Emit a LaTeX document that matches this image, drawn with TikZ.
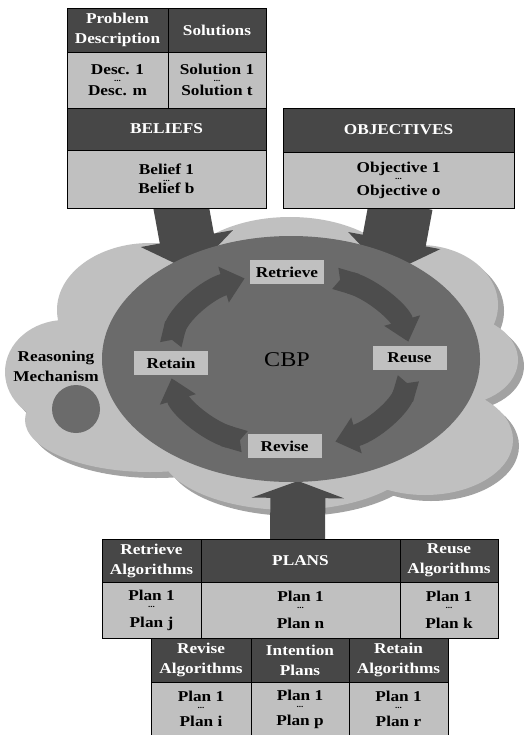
\documentclass[tikz,border=0pt]{standalone}
\usepackage{fontspec}
\setmainfont[FakeStretch=1.15]{Liberation Serif}
\usetikzlibrary{arrows.meta}
\pgfdeclarelayer{back}
\pgfsetlayers{back,main}
\definecolor{cloudc}{HTML}{C0C0C0}
\definecolor{shadc}{HTML}{A2A2A2}
\definecolor{ellc}{HTML}{6B6B6B}
\definecolor{cycc}{HTML}{4D4D4D}
\definecolor{hdrc}{HTML}{474747}
\definecolor{cellc}{HTML}{C0C0C0}
\definecolor{arrc}{HTML}{4A4A4A}
\newcommand{\bft}{\fontsize{15}{20}\selectfont\bfseries}
\newcommand{\trio}[3]{\vbox{\baselineskip=#3\lineskiplimit=-100pt\lineskip=0pt\halign{\hfil##\hfil\cr #1\cr{\fontsize{8}{8}\selectfont\raisebox{\dimexpr#3-7pt\relax}[0pt][0pt]{...}}\cr #2\cr}}}
\begin{document}
\begin{tikzpicture}[x=1pt,y=1pt,
  hdrcell/.style={draw=black, line width=0.8pt, fill=hdrc, text=white, font=\bft, align=center, inner sep=0pt, outer sep=0pt, anchor=north west},
  bodycell/.style={draw=black, line width=0.8pt, fill=cellc, text=black, font=\bft, inner sep=0pt, outer sep=0pt, anchor=north west},
  lbl/.style={fill=cellc, text=black, font=\bft, inner sep=0pt, minimum width=74pt, minimum height=24pt},
  bigarr/.style={draw=arrc, line width=#1, -{Triangle[width=92pt,length=34pt]}},
  botarr/.style={draw=arrc, line width=55pt, -{Triangle[width=92pt,length=17pt]}},
  cycarr/.style={draw=cycc, line width=22pt, {Triangle Cap[reversed,length=5pt]}-{Triangle[width=36pt,length=22pt]}}
]
\useasboundingbox (0,0) rectangle (524,-735);

% ---------- top-left table ----------
\node[hdrcell, minimum width=101pt, minimum height=44pt] (pd) at (67,-8) {Problem\\Description};
\node[hdrcell, minimum width=98pt, minimum height=44pt] (sol) at (168,-8) {Solutions};
\node[bodycell, minimum width=101pt, minimum height=56pt] (desc) at (67,-52) {\trio{Desc. 1}{Desc. m}{10.5pt}};
\node[bodycell, minimum width=98pt, minimum height=56pt] (solc) at (168,-52) {\trio{Solution 1}{Solution t}{10.5pt}};
\node[hdrcell, minimum width=199pt, minimum height=42pt] (bel) at (67,-108) {BELIEFS};
\node[bodycell, minimum width=199pt, minimum height=58pt] (belc) at (67,-150) {\trio{Belief 1}{Belief b}{9.5pt}};

% ---------- objectives ----------
\node[hdrcell, minimum width=231pt, minimum height=44pt] (obj) at (283,-108) {OBJECTIVES};
\node[bodycell, minimum width=231pt, minimum height=56pt] (objc) at (283,-152) {\trio{Objective 1}{Objective o}{11.5pt}};

% ---------- plans tables ----------
\node[hdrcell, minimum width=99pt, minimum height=43pt] (ra) at (102,-539) {Retrieve\\Algorithms};
\node[hdrcell, minimum width=199pt, minimum height=43pt] (plans) at (201,-539) {PLANS};
\node[hdrcell, minimum width=98pt, minimum height=43pt] (ua) at (400,-539) {Reuse\\Algorithms};
\node[bodycell, minimum width=99pt, minimum height=56pt] (rac) at (102,-582) {\trio{Plan 1}{Plan j}{13.5pt}};
\node[bodycell, minimum width=199pt, minimum height=56pt] (plansc) at (201,-582) {\trio{Plan 1}{Plan n}{13.5pt}};
\node[bodycell, minimum width=98pt, minimum height=56pt] (uac) at (400,-582) {\trio{Plan 1}{Plan k}{13.5pt}};
\node[hdrcell, minimum width=100pt, minimum height=44pt] (va) at (151,-638) {Revise\\Algorithms};
\node[hdrcell, minimum width=98pt, minimum height=44pt] (ip) at (251,-638) {Intention\\Plans};
\node[hdrcell, minimum width=99pt, minimum height=44pt] (ta) at (349,-638) {Retain\\Algorithms};
\node[bodycell, minimum width=100pt, minimum height=54pt] (vac) at (151,-682) {\trio{Plan 1}{Plan i}{12.5pt}};
\node[bodycell, minimum width=98pt, minimum height=54pt] (ipc) at (251,-682) {\trio{Plan 1}{Plan p}{12.5pt}};
\node[bodycell, minimum width=99pt, minimum height=54pt] (tac) at (349,-682) {\trio{Plan 1}{Plan r}{12.5pt}};

% ---------- background: cloud, big arrows, ellipse ----------
\begin{pgfonlayer}{back}
\fill[white] (0,0) rectangle (524,-735);
\begin{scope}[shift={(6,-6)}]
\fill[shadc] (290,-285) ellipse[x radius=115, y radius=68]
  (150,-310) ellipse[x radius=93, y radius=67]
  (65,-372) ellipse[x radius=60, y radius=52]
  (150,-420) ellipse[x radius=125, y radius=52]
  (290,-450) ellipse[x radius=130, y radius=60]
  (420,-305) ellipse[x radius=78, y radius=60]
  (455,-360) ellipse[x radius=63, y radius=45]
  (425,-440) ellipse[x radius=88, y radius=55];
\end{scope}
\fill[cloudc] (290,-285) ellipse[x radius=115, y radius=68]
  (150,-310) ellipse[x radius=93, y radius=67]
  (65,-372) ellipse[x radius=60, y radius=52]
  (150,-420) ellipse[x radius=125, y radius=52]
  (290,-450) ellipse[x radius=130, y radius=60]
  (420,-305) ellipse[x radius=78, y radius=60]
  (455,-360) ellipse[x radius=63, y radius=45]
  (425,-440) ellipse[x radius=88, y radius=55];
\fill[ellc] (76,-409) circle[radius=24];
\coordinate (tipL) at (193,-272);
\coordinate (tipR) at (388,-274);
\coordinate (tipB) at (298,-481);
\draw[bigarr=55pt] ([xshift=14pt,yshift=4pt]belc.south) -- (tipL);
\draw[bigarr=64pt] ([xshift=2.5pt,yshift=4pt]objc.south) -- (tipR);
\draw[botarr] ([xshift=-3pt,yshift=-4pt]plans.north) -- (tipB);
\fill[ellc] (291,-359) ellipse[x radius=189, y radius=123];
\end{pgfonlayer}

% ---------- CBP cycle ----------
\coordinate (sA) at (170.8,-344.7);
\coordinate (sB) at (335.3,-278.4);
\coordinate (sC) at (408.4,-378.3);
\coordinate (sD) at (244.7,-441.6);
\draw[cycarr] (sA) arc[start angle=170, end angle=112, x radius=121, y radius=88];
\draw[cycarr] (sB) arc[start angle=68, end angle=12, x radius=121, y radius=88];
\draw[cycarr] (sC) arc[start angle=-12, end angle=-68, x radius=121, y radius=88];
\draw[cycarr] (sD) arc[start angle=-112, end angle=-168, x radius=121, y radius=88];

\node[lbl] (retrieve) at (287,-272) {Retrieve};
\node[lbl] (reuse) at (409.5,-358) {Reuse};
\node[lbl] (retain) at (171,-363) {Retain};
\node[lbl] (revise) at (284.5,-446) {Revise};
\node[font=\fontsize{21}{24}\selectfont, text=black] (cbp) at (287,-360) {CBP};
\node[font=\bft, align=center, inner sep=0pt] (rm) at (56,-366) {Reasoning\\Mechanism};
\end{tikzpicture}
\end{document}
